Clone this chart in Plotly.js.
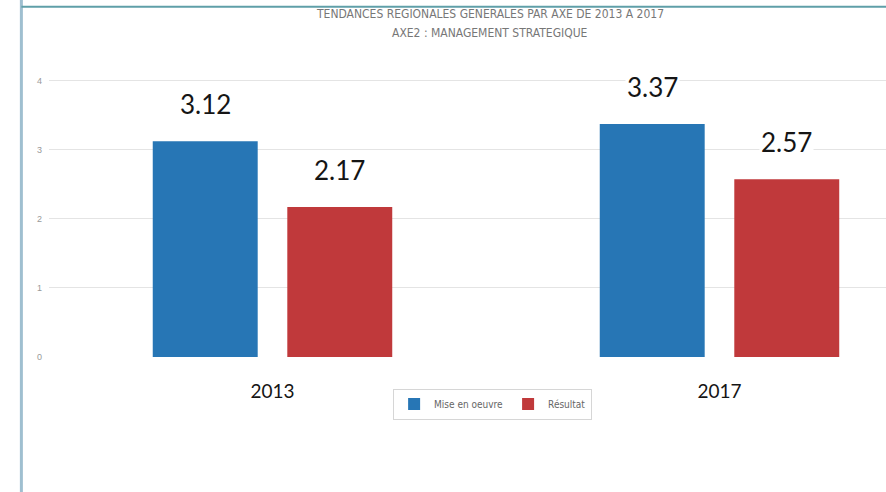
<!DOCTYPE html>
<html>
<head>
<meta charset="utf-8">
<script src="https://cdn.plot.ly/plotly-3.0.1.min.js"></script>
<style>
html,body{margin:0;padding:0;background:#ffffff;}
#chart{width:886px;height:492px;}
</style>
</head>
<body>
<div id="chart"></div>
<script>
var years = ['2013', '2017'];
var seriesNames = ['Mise en oeuvre', 'Résultat'];
var miseEnOeuvre = [3.12, 3.37];
var resultat = [2.17, 2.57];
var colors = ['#2776b5', '#c0393b'];
var yTicks = [0, 1, 2, 3, 4];
var titleLines = ['TENDANCES REGIONALES GENERALES PAR AXE DE 2013 A 2017', 'AXE2 : MANAGEMENT STRATEGIQUE'];

var xIdx = years.map(function (y, i) { return i; });
var allSeries = [miseEnOeuvre, resultat];
var traces = allSeries.map(function (vals, i) {
  return {
    type: 'bar',
    name: seriesNames[i],
    x: xIdx,
    y: vals,
    marker: {color: colors[i]},
    hoverinfo: 'y'
  };
});

var annotations = [];
var slot = 0.301;
allSeries.forEach(function (vals, i) {
  vals.forEach(function (v, j) {
    annotations.push({
      x: j + (i === 0 ? -slot / 2 : slot / 2), y: v, xref: 'x', yref: 'y',
      text: v.toFixed(2), showarrow: false,
      yshift: 37,
      bgcolor: '#ffffff',
      font: {family: 'Lato, "Open Sans", sans-serif', size: 26, color: '#151515'}
    });
  });
});
var plotTop = 78.6, plotBottom = 357;
[14, 33].forEach(function (py, k) {
  annotations.push({
    x: 0.527, xref: 'paper', xanchor: 'center',
    y: (plotBottom - py) / (plotBottom - plotTop), yref: 'paper', yanchor: 'middle',
    text: titleLines[k], showarrow: false,
    font: {family: '"Liberation Sans Narrow", "DejaVu Sans Condensed", sans-serif', size: 12, color: '#777777'}
  });
});

var layout = {
  width: 886, height: 492,
  paper_bgcolor: '#ffffff', plot_bgcolor: '#ffffff',
  margin: {l: 49, r: 0, t: plotTop, b: 492 - plotBottom},
  barmode: 'group', bargap: 0.398, bargroupgap: 0.22,
  xaxis: {
    range: [-0.5, 1.3725],
    tickvals: xIdx, ticktext: years,
    showgrid: false, zeroline: false, showline: false, ticks: '',
    ticklabelstandoff: 21,
    tickfont: {family: 'Lato, "Open Sans", sans-serif', size: 19, color: '#151515'}
  },
  yaxis: {
    range: [0, 4.02],
    tickvals: yTicks,
    showgrid: true, gridcolor: '#e4e4e4', gridwidth: 1,
    zeroline: false, showline: false, ticks: '',
    ticklabelstandoff: 6,
    tickfont: {family: '"Liberation Sans", sans-serif', size: 9, color: '#999999'}
  },
  showlegend: true,
  legend: {
    orientation: 'h', x: 0.53, xanchor: 'center', xref: 'paper',
    y: 1 - 404 / 492, yref: 'container', yanchor: 'middle',
    bordercolor: '#d6d6d6', borderwidth: 1, bgcolor: '#ffffff',
    itemwidth: 30,
    font: {family: '"Liberation Sans Narrow", "DejaVu Sans Condensed", sans-serif', size: 10, color: '#666666'}
  },
  annotations: annotations,
  shapes: [
    {type: 'line', xref: 'paper', yref: 'paper', x0: -0.033, x1: -0.033, y0: -0.5, y1: 1.3,
     line: {color: '#9fbfd0', width: 3}},
    {type: 'line', xref: 'paper', yref: 'paper', x0: -0.033, x1: 1.05, y0: 1.26, y1: 1.26,
     line: {color: '#5f9fa8', width: 2}}
  ]
};

Plotly.newPlot('chart', traces, layout, {displayModeBar: false, responsive: false});
</script>
</body>
</html>
